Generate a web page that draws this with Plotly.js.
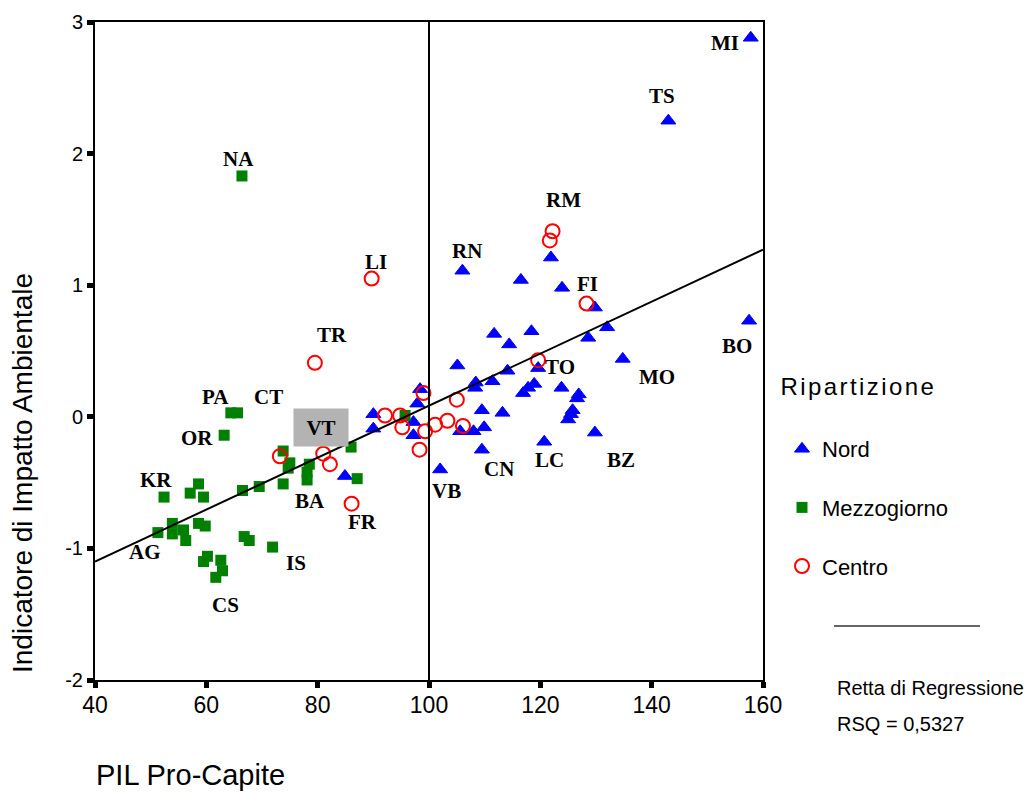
<!DOCTYPE html>
<html><head><meta charset="utf-8">
<script src="https://cdn.plot.ly/plotly-3.0.1.min.js"></script>
<style>
html,body{margin:0;padding:0;background:#fff}
#chart{width:1032px;height:792px}
.annotation[data-index="25"] text{letter-spacing:2.4px}
</style>
</head><body><div id="chart"></div>
<script>
// ---- data (PIL pro-capite, Indicatore di Impatto Ambientale) ----
const nordX = [157.8,143.0,121.9,106.0,116.5,123.9,129.8,132.0,157.5,111.7,118.4,114.4,128.6,134.8,105.1,119.6,114.1,108.4,108.3,111.4,118.9,117.8,116.9,123.8,126.9,126.6,98.4,97.9,109.5,113.2,125.8,125.5,125.0,97.2,97.2,105.6,108.0,109.9,129.8,120.7,109.5,102.0,90.0,90.0,84.9];
const nordY = [2.88,2.25,1.21,1.11,1.04,0.98,0.83,0.68,0.73,0.63,0.65,0.55,0.60,0.44,0.39,0.37,0.35,0.26,0.22,0.27,0.25,0.22,0.18,0.22,0.17,0.14,0.21,0.10,0.05,0.03,0.05,0.02,-0.02,-0.04,-0.14,-0.11,-0.11,-0.08,-0.12,-0.19,-0.25,-0.40,0.02,-0.09,-0.45];

const mezzX = [66.4,64.4,65.6,63.2,73.8,75.0,74.7,78.5,78.1,78.1,86.0,87.1,73.8,69.5,66.5,58.6,57.1,59.5,52.4,51.3,53.9,53.9,55.9,56.3,58.6,59.8,66.8,67.7,71.9,60.2,59.5,62.6,62.9,61.7,95.7];
const mezzY = [1.83,0.03,0.03,-0.14,-0.26,-0.35,-0.39,-0.36,-0.42,-0.48,-0.23,-0.47,-0.51,-0.53,-0.56,-0.51,-0.58,-0.61,-0.61,-0.88,-0.81,-0.89,-0.86,-0.94,-0.81,-0.83,-0.91,-0.94,-0.99,-1.06,-1.10,-1.09,-1.17,-1.22,0.01];

const centroX = [122.2,121.7,89.7,79.5,73.2,81.0,82.2,92.1,94.8,95.2,99.0,99.3,98.3,101.1,103.3,106.1,105.0,86.1,119.6,128.3];
const centroY = [1.41,1.34,1.05,0.41,-0.30,-0.28,-0.36,0.01,0.01,-0.08,0.18,-0.11,-0.25,-0.06,-0.03,-0.07,0.13,-0.66,0.43,0.86];

// regression line end points
const regX = [40,160];
const regY = [-1.10,1.27];

const seriesNames = ['Nord','Mezzogiorno','Centro'];
const xTicks = [40,60,80,100,120,140,160];
const yTicks = [-2,-1,0,1,2,3];

// province labels
const labelText = ['MI','TS','NA','RM','RN','LI','FI','TR','BO','TO','MO','PA','CT','OR','VT','BZ','LC','CN','VB','KR','BA','FR','AG','IS','CS'];
const labelX = [153.2,141.9,65.7,124.1,106.8,90.5,128.4,82.6,155.3,123.5,141.0,61.7,71.1,58.3,80.6,134.5,121.6,112.6,103.1,51.0,78.6,88.0,49.0,76.1,63.5];
const labelY = [2.84,2.44,1.96,1.65,1.26,1.18,1.01,0.62,0.54,0.38,0.30,0.15,0.15,-0.16,-0.08,-0.33,-0.33,-0.40,-0.56,-0.48,-0.64,-0.80,-1.03,-1.11,-1.43];

// ---- layout helpers (pixel -> paper) ----
const L=95,R=763,T=22,B=680;
const px=(x)=>(x-L)/(R-L);
const py=(y)=>(B-y)/(B-T);

const traces = [
  {x:nordX,y:nordY,type:'scatter',mode:'markers',name:seriesNames[0],legendgroup:'a',
   marker:{symbol:'triangle-up',size:13,color:'#0000ff',line:{color:'#0000ff',width:1}}},
  {x:mezzX,y:mezzY,type:'scatter',mode:'markers',name:seriesNames[1],legendgroup:'b',
   marker:{symbol:'square',size:11,color:'#008000',line:{width:0}}},
  {x:centroX,y:centroY,type:'scatter',mode:'markers',name:seriesNames[2],legendgroup:'c',
   marker:{symbol:'circle-open',size:14,color:'#ff0000',line:{color:'#ff0000',width:2}}},
  {x:regX,y:regY,type:'scatter',mode:'lines',showlegend:false,hoverinfo:'skip',
   line:{color:'#000000',width:2}}
];

const annotations = labelText.map((t,i)=>{
  const a = {x:labelX[i],y:labelY[i],xref:'x',yref:'y',text:t,showarrow:false,
    font:{family:'Liberation Serif, Times New Roman, serif',size:21,color:'#000',weight:'bold'},
    xanchor:'center',yanchor:'middle'};
  if(t==='VT'){a.bgcolor='#b3b3b3';a.width=52;a.height=35;}
  return a;
});
// legend title & regression note & axis titles
annotations.push(
  {xref:'paper',yref:'paper',x:px(793),y:py(386),xanchor:'left',yanchor:'middle',showarrow:false,
   text:'Ripartizione',font:{family:'Liberation Sans, Arial, sans-serif',size:24,color:'#000'}},
  {xref:'paper',yref:'paper',x:px(835),y:py(688),xanchor:'left',yanchor:'middle',showarrow:false,
   text:'Retta di Regressione',font:{family:'Liberation Sans, Arial, sans-serif',size:20,color:'#000'}},
  {xref:'paper',yref:'paper',x:px(835),y:py(724),xanchor:'left',yanchor:'middle',showarrow:false,
   text:'RSQ = 0,5327',font:{family:'Liberation Sans, Arial, sans-serif',size:20,color:'#000'}},
  {xref:'paper',yref:'paper',x:px(94),y:py(775),xanchor:'left',yanchor:'middle',showarrow:false,
   text:'PIL Pro-Capite',font:{family:'Liberation Sans, Arial, sans-serif',size:29,color:'#000'}},
  {xref:'paper',yref:'paper',x:px(22),y:py(473),xanchor:'center',yanchor:'middle',showarrow:false,textangle:-90,
   text:'Indicatore di Impatto Ambientale',font:{family:'Liberation Sans, Arial, sans-serif',size:28,color:'#000'}}
);

const layout = {
  width:1032,height:792,
  margin:{l:L,r:1032-R,t:T,b:792-B,pad:0},
  paper_bgcolor:'#fff',plot_bgcolor:'#fff',
  showlegend:true,
  legend:{x:px(782),xanchor:'left',y:py(428),yanchor:'top',tracegroupgap:27,
    font:{family:'Liberation Sans, Arial, sans-serif',size:22,color:'#000'},bgcolor:'rgba(0,0,0,0)'},
  xaxis:{range:[40,160],tickvals:xTicks,ticktext:xTicks.map(String),showgrid:false,zeroline:false,
    showline:true,linecolor:'#000',linewidth:2,mirror:true,ticks:'outside',ticklen:6,tickwidth:5,tickcolor:'#000',
    ticklabelstandoff:-3,
    tickfont:{family:'Liberation Sans Narrow, Arial Narrow, Liberation Sans, sans-serif',size:23,color:'#000'}},
  yaxis:{range:[-2,3],tickvals:yTicks,ticktext:yTicks.map(String),showgrid:false,zeroline:false,
    showline:true,linecolor:'#000',linewidth:2,mirror:true,ticks:'outside',ticklen:6,tickwidth:5,tickcolor:'#000',
    tickfont:{family:'Liberation Sans, Arial, sans-serif',size:20,color:'#000'}},
  shapes:[
    {type:'line',xref:'x',yref:'y',x0:100,x1:100,y0:-2,y1:3,line:{color:'#000',width:2}},
    {type:'line',xref:'paper',yref:'paper',x0:px(834),x1:px(980),y0:py(626),y1:py(626),line:{color:'#333',width:1.5}}
  ],
  annotations:annotations
};

Plotly.newPlot('chart',traces,layout,{displayModeBar:false,staticPlot:true});
</script>
</body></html>
